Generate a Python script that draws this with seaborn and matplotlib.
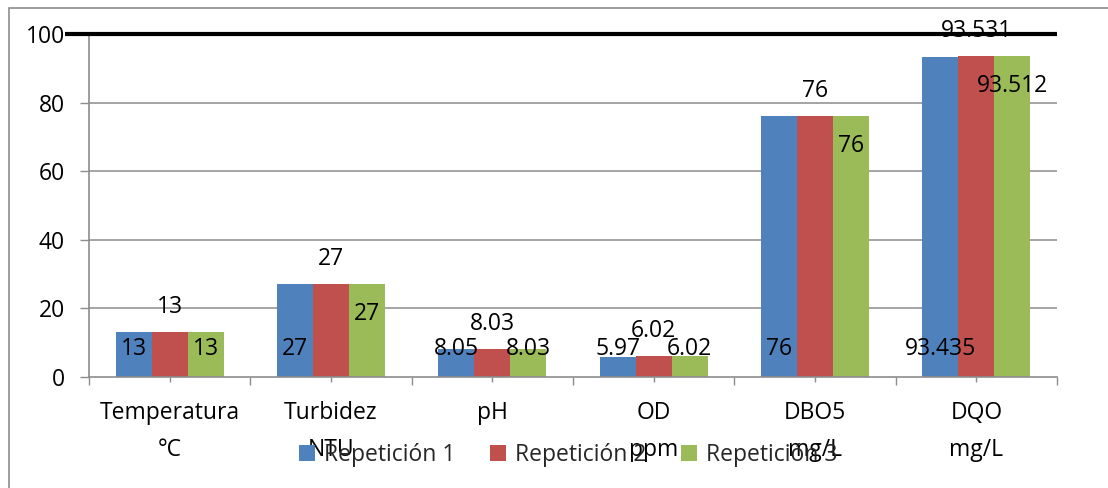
import matplotlib
matplotlib.use("Agg")
import matplotlib.pyplot as plt
import matplotlib.patches as mpatches
import matplotlib.transforms as mtransforms
import seaborn as sns
import pandas as pd
import numpy as np

# Parameters measured in three repetitions
categories = ["Temperatura\n°C", "Turbidez\nNTU", "pH", "OD\nppm", "DBO5\nmg/L", "DQO\nmg/L"]
series_names = ["Repetición 1", "Repetición 2", "Repetición 3"]
rep1 = [13, 27, 8.05, 5.97, 76, 93.435]
rep2 = [13, 27, 8.03, 6.02, 76, 93.531]
rep3 = [13, 27, 8.03, 6.02, 76, 93.512]
colors = ["#4F81BD", "#C0504D", "#9BBB59"]
y_ticks = [0, 20, 40, 60, 80, 100]

df = pd.DataFrame({
    "Parámetro": categories * 3,
    "Valor": rep1 + rep2 + rep3,
    "Serie": [s for s in series_names for _ in categories],
})

sns.set_theme(style="white")
plt.rcParams["font.family"] = ["Open Sans", "DejaVu Sans"]
FS = 16.5

W, H = 1108, 488
fig = plt.figure(figsize=(W / 100, H / 100), dpi=100)
ax = fig.add_axes([89 / W, 1 - 377 / H, (1057 - 89) / W, (377 - 34) / H])

sns.barplot(data=df, x="Parámetro", y="Valor", hue="Serie", order=categories,
            hue_order=series_names, palette=colors, width=0.67, gap=0,
            linewidth=0, saturation=1, errorbar=None, ax=ax, legend=True)

ax.set_xlim(-0.5, len(categories) - 0.5)
ax.set_ylim(0, 100)
ax.set_xlabel("")
ax.set_ylabel("")

# axis styling
grid_c = "#8C8C8C"
for s in ["top", "right"]:
    ax.spines[s].set_visible(False)
for s in ["left", "bottom"]:
    ax.spines[s].set_color(grid_c)
    ax.spines[s].set_linewidth(1.2)
ax.set_yticks(y_ticks)
ax.set_yticklabels([str(t) for t in y_ticks], fontsize=FS, color="black")
ax.tick_params(axis="y", direction="out", length=6.5, width=1, color=grid_c, pad=11, left=True)
for t in y_ticks[1:-1]:
    ax.axhline(t, color=grid_c, lw=1.1, zorder=0)

ax.set_xticks(np.arange(-0.5, len(categories), 1.0))
ax.set_xticklabels([])
ax.set_xticks(np.arange(len(categories)), minor=True)
ax.set_xticklabels(categories, minor=True, fontsize=FS, linespacing=1.72, color="black")
ax.tick_params(axis="x", which="major", direction="out", length=5.5, width=1, color=grid_c, bottom=True)
ax.tick_params(axis="x", which="minor", direction="out", length=3.5, width=1, color=grid_c, pad=14, bottom=True)

# heavy line across the top of the plot area
tr = mtransforms.blended_transform_factory(ax.transAxes, ax.transData)
ax.plot([-0.025, 1.0], [100, 100], transform=tr, color="black", lw=3, clip_on=False, zorder=5,
        solid_capstyle="butt")

# data labels
px_per_unit = (377 - 34) / 100.0
base_y = 28 / px_per_unit
for i, cont in enumerate(ax.containers):
    for patch in cont.patches:
        v = patch.get_height()
        x = patch.get_x() + patch.get_width() / 2
        if i == 0:
            y = base_y
        elif i == 1:
            y = v + 25 / px_per_unit
        else:
            y = max(v - 30 / px_per_unit, base_y)
        ax.text(x, y, f"{v:g}", ha="center", va="center", fontsize=FS, color="black", zorder=6)

# legend
handles, labels = ax.get_legend_handles_labels()
ax.get_legend().remove()
fig.legend(handles, labels, loc="center", bbox_to_anchor=(568 / W, 1 - 455 / H), ncol=3,
           frameon=False, fontsize=FS, handlelength=0.7, handleheight=0.7,
           handletextpad=0.4, columnspacing=1.5, borderpad=0)

# outer chart border (extends past the right and bottom edges)
top = 1 - 8 / H
fig.patches.append(mpatches.Rectangle((9 / W, -0.2), 1.2, top + 0.2,
                                      transform=fig.transFigure, fill=False, edgecolor="#8C8C8C",
                                      lw=1.2, clip_on=False))

fig.savefig("out.png", dpi=100)
